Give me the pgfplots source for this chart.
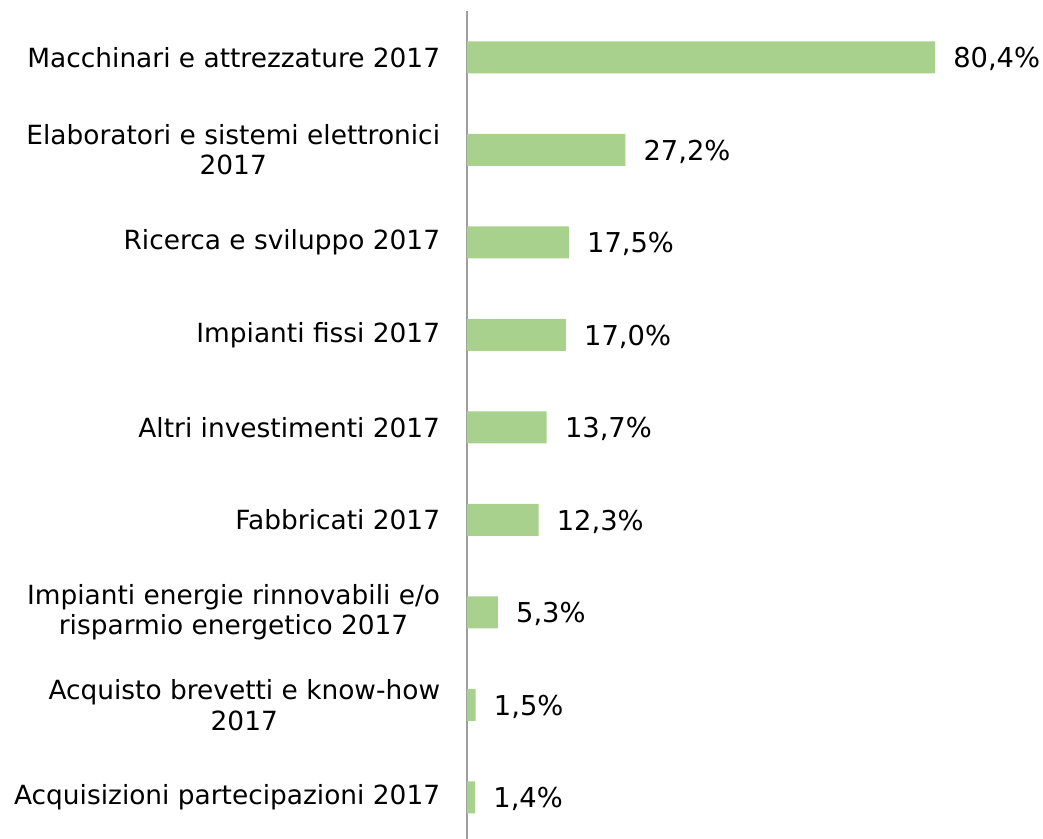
\documentclass[border=0pt]{standalone}
\usepackage{fontspec}
\setmainfont{DejaVu Sans}
\usepackage{pgfplots}
\pgfplotsset{compat=1.18}
\definecolor{barg}{HTML}{A9D18E}
\begin{document}
\begin{tikzpicture}
\useasboundingbox (0pt,0pt) rectangle (782.25pt,629.25pt);
\begin{axis}[
  at={(350.25pt,0pt)}, anchor=south west,
  scale only axis, width=351pt, height=621pt,
  xmin=0, xmax=80.4, ymin=-0.45, ymax=8.5,
  xbar, bar width=24pt,
  axis x line=none, axis y line=left,
  y axis line style={-, draw=black!38, line width=0.9pt},
  ytick={0,...,8}, major tick length=0pt,
  yticklabels={Acquisizioni partecipazioni 2017,
    {Acquisto brevetti e know-how\\2017},
    {Impianti energie rinnovabili e/o\\risparmio energetico 2017},
    Fabbricati 2017, Altri investimenti 2017, Impianti fissi 2017,
    Ricerca e sviluppo 2017,
    {Elaboratori e sistemi elettronici\\2017},
    Macchinari e attrezzature 2017},
  yticklabel style={align=center, font=\fontsize{19.8}{23}\selectfont, inner xsep=0pt, xshift=-20pt, text=black},
  nodes near coords={\pgfmathprintnumber{\pgfplotspointmeta}\%},
  /pgf/number format/.cd, use comma, fixed, fixed zerofill, precision=1, assume math mode=true,
  /pgfplots/.cd,
  nodes near coords style={anchor=west, inner xsep=0pt, xshift=13.5pt, yshift=-1.5pt, font=\fontsize{20.5}{23}\selectfont, text=black},
  clip=false,
]
\addplot[fill=barg, draw=none] coordinates {
(1.4,0) (1.5,1) (5.3,2) (12.3,3) (13.7,4) (17.0,5) (17.5,6) (27.2,7) (80.4,8)};
\end{axis}
\end{tikzpicture}
\end{document}
